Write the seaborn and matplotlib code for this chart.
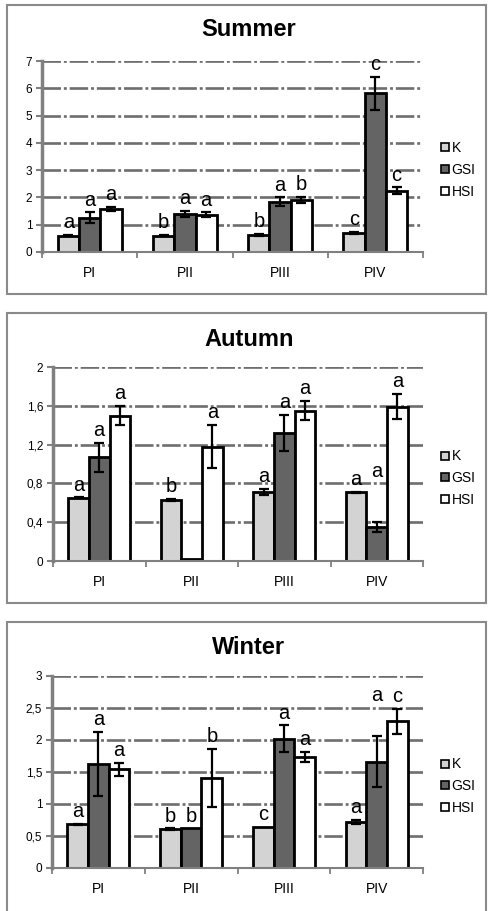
import numpy as np
import pandas as pd
import seaborn as sns
import matplotlib
matplotlib.use("Agg")
import matplotlib.pyplot as plt
from matplotlib.patches import Rectangle
from matplotlib.lines import Line2D

sites = ["PI", "PII", "PIII", "PIV"]
indices = ["K", "GSI", "HSI"]

# Summer
summer_K = [0.60, 0.60, 0.63, 0.70]
summer_K_err = [0.03, 0.03, 0.03, 0.03]
summer_GSI = [1.25, 1.40, 1.85, 5.82]
summer_GSI_err = [0.20, 0.12, 0.15, 0.60]
summer_HSI = [1.58, 1.37, 1.90, 2.25]
summer_HSI_err = [0.07, 0.08, 0.12, 0.12]
summer_letters = [["a", "b", "b", "c"], ["a", "a", "a", "c"], ["a", "a", "b", "c"]]

# Autumn
autumn_K = [0.65, 0.63, 0.71, 0.71]
autumn_K_err = [0.005, 0.01, 0.03, 0.005]
autumn_GSI = [1.07, 0.02, 1.32, 0.35]
autumn_GSI_err = [0.15, 0.0, 0.19, 0.05]
autumn_HSI = [1.50, 1.18, 1.55, 1.59]
autumn_HSI_err = [0.10, 0.22, 0.10, 0.13]
autumn_letters = [["a", "b", "a", "a"], ["a", "", "a", "a"], ["a", "a", "a", "a"]]

# Winter
winter_K = [0.68, 0.61, 0.64, 0.72]
winter_K_err = [0.01, 0.01, 0.0, 0.03]
winter_GSI = [1.63, 0.62, 2.02, 1.66]
winter_GSI_err = [0.50, 0.0, 0.21, 0.40]
winter_HSI = [1.54, 1.41, 1.73, 2.29]
winter_HSI_err = [0.10, 0.45, 0.08, 0.20]
winter_letters = [["a", "b", "c", "a"], ["a", "b", "a", "a"], ["a", "b", "a", "c"]]

colors = {"K": "#d3d3d3", "GSI": "#646464", "HSI": "#ffffff"}
FONT = "Liberation Sans"
plt.rcParams["font.family"] = [FONT, "DejaVu Sans"]

panels = [
    dict(title="Summer", vals=[summer_K, summer_GSI, summer_HSI],
         errs=[summer_K_err, summer_GSI_err, summer_HSI_err], letters=summer_letters,
         ylim=7, step=1, ticklabels=["0", "1", "2", "3", "4", "5", "6", "7"],
         ax_px=(42, 61, 423, 252), box=(7, 5, 486, 294), title_y=30, leg_y=170),
    dict(title="Autumn", vals=[autumn_K, autumn_GSI, autumn_HSI],
         errs=[autumn_K_err, autumn_GSI_err, autumn_HSI_err], letters=autumn_letters,
         ylim=2, step=0.4, ticklabels=["0", "0,4", "0,8", "1,2", "1,6", "2"],
         ax_px=(53, 367, 423, 561), box=(7, 313, 486, 603), title_y=339, leg_y=478,
         lift={(1, 3): 0.4}),
    dict(title="Winter", vals=[winter_K, winter_GSI, winter_HSI],
         errs=[winter_K_err, winter_GSI_err, winter_HSI_err], letters=winter_letters,
         ylim=3, step=0.5, ticklabels=["0", "0,5", "1", "1,5", "2", "2,5", "3"],
         ax_px=(52, 676, 423, 868), box=(7, 622, 486, 912), title_y=647, leg_y=786,
         lift={(1, 3): 0.45}),
]

W, H = 488, 911
fig = plt.figure(figsize=(W / 100, H / 100), dpi=100)
fig.patch.set_facecolor("white")

grid_color = "#6e6e6e"

for p in panels:
    x0, y0, x1, y1 = p["box"]
    fig.patches.append(Rectangle((x0 / W, 1 - y1 / H), (x1 - x0) / W, (y1 - y0) / H,
                                 transform=fig.transFigure, fill=False,
                                 edgecolor="#8a8a8a", lw=1.5))
    l, t, r, b = p["ax_px"]
    ax = fig.add_axes([l / W, 1 - b / H, (r - l) / W, (b - t) / H])

    rows = []
    for ii, ind in enumerate(indices):
        for si, s in enumerate(sites):
            rows.append(dict(site=s, index=ind, value=p["vals"][ii][si]))
    df = pd.DataFrame(rows)

    ticks = np.arange(0, p["ylim"] + p["step"] / 2, p["step"])
    for tv in ticks[1:]:
        ax.axhline(tv, color=grid_color, lw=1.9, dashes=(7, 1.1, 1.1, 1.1), zorder=0)

    sns.barplot(data=df, x="site", y="value", hue="index", order=sites, hue_order=indices,
                palette=colors, width=0.67, edgecolor="black", linewidth=2.0,
                errorbar=None, legend=False, ax=ax, zorder=2)

    bar_containers = list(ax.containers)
    lift = p.get("lift", {})
    for ii, cont in enumerate(bar_containers):
        for si, bar in enumerate(cont):
            xc = bar.get_x() + bar.get_width() / 2
            v = p["vals"][ii][si]
            e = p["errs"][ii][si]
            if e > 0:
                ax.errorbar(xc, v, yerr=e, fmt="none", ecolor="black", elinewidth=1.6,
                            capsize=3.5, capthick=1.6, zorder=4)
            lab = p["letters"][ii][si]
            if lab:
                ytop = v + e + lift.get((ii, si), 0)
                ax.annotate(lab, (xc, ytop), xytext=(0, 2), textcoords="offset points",
                            ha="center", va="bottom", fontsize=14.5, color="black", zorder=5)

    ax.set_ylim(0, p["ylim"])
    ax.set_xlim(-0.5, 3.5)
    ax.set_yticks(ticks)
    ax.set_yticklabels(p["ticklabels"], fontsize=8.5)
    ax.set_xticks([0, 1, 2, 3])
    ax.set_xticklabels(sites, fontsize=10)
    ax.set_xticks([-0.5, 0.5, 1.5, 2.5, 3.5], minor=True)
    ax.tick_params(axis="x", which="major", length=0, pad=10)
    ax.tick_params(axis="x", which="minor", length=4, width=1.3, color="#808080", direction="out")
    ax.tick_params(axis="y", length=4, width=1.5, color="#808080", pad=3)
    ax.set_xlabel("")
    ax.set_ylabel("")
    ax.set_facecolor("white")
    for side in ["top", "right"]:
        ax.spines[side].set_visible(False)
    ax.spines["left"].set_color("#808080")
    ax.spines["left"].set_linewidth(2.5)
    ax.spines["bottom"].set_color("#808080")
    ax.spines["bottom"].set_linewidth(1.5)

    fig.text(249 / W, 1 - p["title_y"] / H, p["title"],
             ha="center", va="center", fontsize=17, fontweight="bold")

    handles = [Line2D([], [], marker="s", ls="none", markersize=5.5, markerfacecolor=colors[k],
                      markeredgecolor="black", markeredgewidth=1.2, label=k) for k in indices]
    ax.legend(handles=handles, loc="center left", bbox_to_anchor=(441 / W, 1 - p["leg_y"] / H),
              bbox_transform=fig.transFigure, frameon=False, fontsize=10, handlelength=0.6,
              handletextpad=0.15, labelspacing=0.55, borderaxespad=0, borderpad=0)

fig.savefig("out.png", dpi=100)
